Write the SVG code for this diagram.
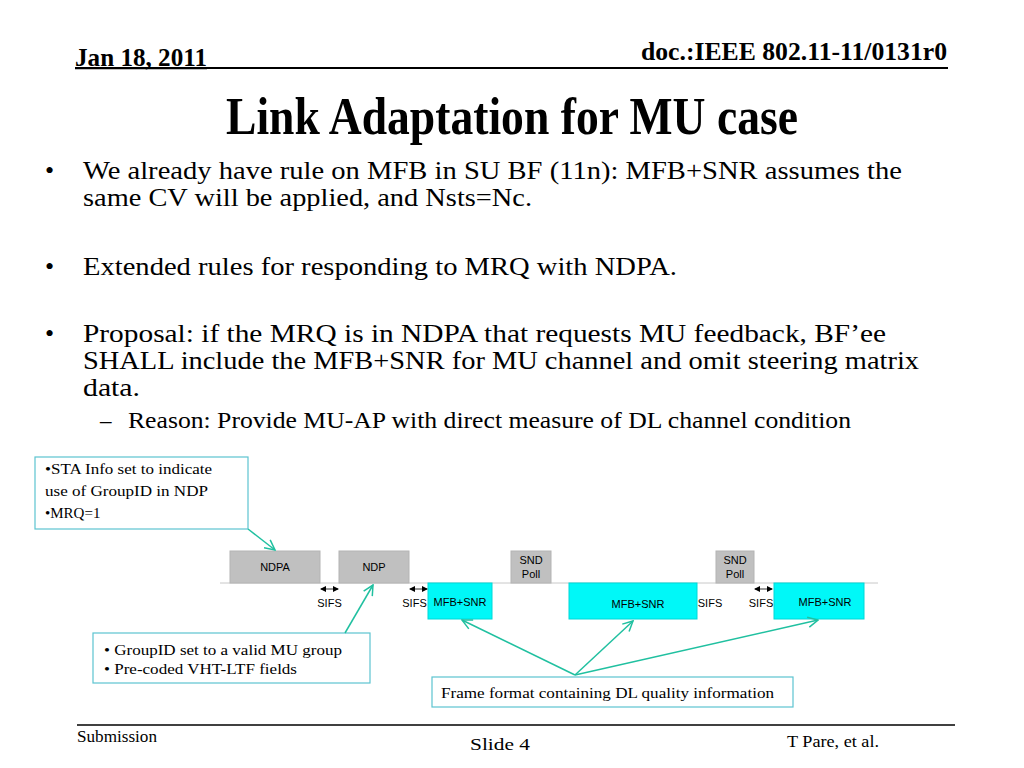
<svg xmlns="http://www.w3.org/2000/svg" width="1024" height="768" viewBox="0 0 1024 768">
<style>
.hd{font-family:"Times New Roman","Liberation Serif",Times,serif;font-weight:bold;fill:#000}
.body{font-family:"Times New Roman","Liberation Serif",Times,serif;font-size:26px;fill:#000}
.note{font-family:"Times New Roman","Liberation Serif",Times,serif;font-size:15px;fill:#000}
.lab{font-family:Arial,"Liberation Sans",sans-serif;font-size:11px;fill:#000}
.ft{font-family:"Times New Roman","Liberation Serif",Times,serif;font-size:17px;fill:#000}
.nb{fill:#fff;stroke:#5cc4d0;stroke-width:1.2}
.gray{fill:#c0c0c0;stroke:#b4b4b4;stroke-width:1}
.cyan{fill:#00f8f8;stroke:#00d8d8;stroke-width:1}
.conn{stroke:#20c0a0;stroke-width:1.5;fill:none;marker-end:url(#ah)}
.sifs{stroke:#000;stroke-width:0.8;marker-start:url(#sa);marker-end:url(#sa)}
</style>
<defs>
<marker id="ah" viewBox="0 0 12 12" refX="11" refY="6" markerWidth="12" markerHeight="12" markerUnits="userSpaceOnUse" orient="auto">
<polyline points="1,1 11,6 1,11" fill="none" stroke="#20c0a0" stroke-width="1.5"/>
</marker>
<marker id="sa" viewBox="0 0 6 6" refX="5" refY="3" markerWidth="6" markerHeight="6" markerUnits="userSpaceOnUse" orient="auto-start-reverse">
<path d="M0,0 L6,3 L0,6 Z" fill="#000"/>
</marker>
</defs>
<rect width="1024" height="768" fill="#fff"/>
<!-- header -->
<g id="header">
<text class="hd" x="75" y="66" font-size="26" textLength="132" lengthAdjust="spacingAndGlyphs">Jan 18, 2011</text>
<line x1="75" y1="68.5" x2="207" y2="68.5" stroke="#000" stroke-width="1.5"/>
<text class="hd" x="641" y="60" font-size="26" textLength="306" lengthAdjust="spacingAndGlyphs">doc.:IEEE 802.11-11/0131r0</text>
<line x1="75" y1="68" x2="948" y2="68" stroke="#000" stroke-width="2"/>
<text class="hd" x="226" y="134" font-size="52" textLength="572" lengthAdjust="spacingAndGlyphs">Link Adaptation for MU case</text>
</g>
<!-- bullets -->
<g id="bullets">
<text class="body" x="45" y="179">•</text>
<text class="body" x="83" y="179" textLength="819" lengthAdjust="spacingAndGlyphs">We already have rule on MFB in SU BF (11n): MFB+SNR assumes the</text>
<text class="body" x="83" y="206" textLength="449" lengthAdjust="spacingAndGlyphs">same CV will be applied, and Nsts=Nc.</text>
<text class="body" x="45" y="275">•</text>
<text class="body" x="83" y="275" textLength="594" lengthAdjust="spacingAndGlyphs">Extended rules for responding to MRQ with NDPA.</text>
<text class="body" x="45" y="342">•</text>
<text class="body" x="83" y="342" textLength="803" lengthAdjust="spacingAndGlyphs">Proposal: if the MRQ is in NDPA that requests MU feedback, BF’ee</text>
<text class="body" x="83" y="369" textLength="836" lengthAdjust="spacingAndGlyphs">SHALL include the MFB+SNR for MU channel and omit steering matrix</text>
<text class="body" x="83" y="396" textLength="57" lengthAdjust="spacingAndGlyphs">data.</text>
<text class="body" x="100" y="428" style="font-size:23px">–</text>
<text class="body" x="128" y="428" style="font-size:23px" textLength="723" lengthAdjust="spacingAndGlyphs">Reason: Provide MU-AP with direct measure of DL channel condition</text>
</g>
<!-- timeline -->
<line x1="220" y1="583" x2="878" y2="583" stroke="#c8c8c8" stroke-width="1"/>
<g id="ndpa"><rect class="gray" x="230" y="551" width="90" height="32"/><text class="lab" x="275" y="571" text-anchor="middle">NDPA</text></g>
<g id="ndp"><rect class="gray" x="339" y="551" width="70" height="32"/><text class="lab" x="374" y="571" text-anchor="middle">NDP</text></g>
<g id="sndpoll1"><rect class="gray" x="511" y="551" width="40" height="32"/><text class="lab" x="531" y="564" text-anchor="middle">SND</text><text class="lab" x="531" y="578" text-anchor="middle">Poll</text></g>
<g id="sndpoll2"><rect class="gray" x="716" y="551" width="38" height="32"/><text class="lab" x="735" y="564" text-anchor="middle">SND</text><text class="lab" x="735" y="578" text-anchor="middle">Poll</text></g>
<g id="mfb1"><rect class="cyan" x="428" y="583" width="64" height="36"/><text class="lab" x="460" y="606" text-anchor="middle">MFB+SNR</text></g>
<g id="mfb2"><rect class="cyan" x="569" y="583" width="128" height="36"/><text class="lab" x="638" y="608" text-anchor="middle">MFB+SNR</text></g>
<g id="mfb3"><rect class="cyan" x="774" y="583" width="90" height="36"/><text class="lab" x="825" y="606" text-anchor="middle">MFB+SNR</text></g>
<g id="sifs">
<line class="sifs" x1="321" y1="589" x2="338" y2="589"/>
<text class="lab" x="329.5" y="607" text-anchor="middle">SIFS</text>
<line class="sifs" x1="410" y1="589" x2="427" y2="589"/>
<text class="lab" x="414.5" y="607" text-anchor="middle">SIFS</text>
<text class="lab" x="710" y="607" text-anchor="middle">SIFS</text>
<line class="sifs" x1="755" y1="589" x2="772" y2="589"/>
<text class="lab" x="761" y="607" text-anchor="middle">SIFS</text>
</g>
<!-- notes -->
<g id="note1">
<rect class="nb" x="35" y="457" width="213" height="72"/>
<text class="note" x="45" y="474" textLength="167" lengthAdjust="spacingAndGlyphs">•STA Info set to indicate</text>
<text class="note" x="45" y="496" textLength="163" lengthAdjust="spacingAndGlyphs">use of GroupID in NDP</text>
<text class="note" x="45" y="518">•MRQ=1</text>
</g>
<g id="note2">
<rect class="nb" x="93" y="633" width="277" height="50"/>
<text class="note" x="104" y="655" textLength="238" lengthAdjust="spacingAndGlyphs">• GroupID set to a valid MU group</text>
<text class="note" x="104" y="674" textLength="193" lengthAdjust="spacingAndGlyphs">• Pre-coded VHT-LTF fields</text>
</g>
<g id="note3">
<rect class="nb" x="432" y="677" width="361" height="30"/>
<text class="note" x="441" y="698" textLength="333" lengthAdjust="spacingAndGlyphs">Frame format containing DL quality information</text>
</g>
<!-- connectors -->
<g id="connectors">
<line class="conn" x1="248" y1="529" x2="275" y2="550"/>
<line class="conn" x1="345" y1="633" x2="373" y2="585"/>
<line class="conn" x1="575" y1="675" x2="462" y2="620"/>
<line class="conn" x1="575" y1="675" x2="633" y2="621"/>
<line class="conn" x1="575" y1="675" x2="818" y2="620"/>
</g>
<!-- footer -->
<g id="footer">
<line x1="77" y1="725" x2="955" y2="725" stroke="#000" stroke-width="1.5"/>
<text class="ft" x="77" y="742" textLength="80" lengthAdjust="spacingAndGlyphs">Submission</text>
<text class="ft" x="470" y="750" textLength="60" lengthAdjust="spacingAndGlyphs">Slide 4</text>
<text class="ft" x="787" y="747" textLength="92" lengthAdjust="spacingAndGlyphs">T Pare, et al.</text>
</g>
</svg>
